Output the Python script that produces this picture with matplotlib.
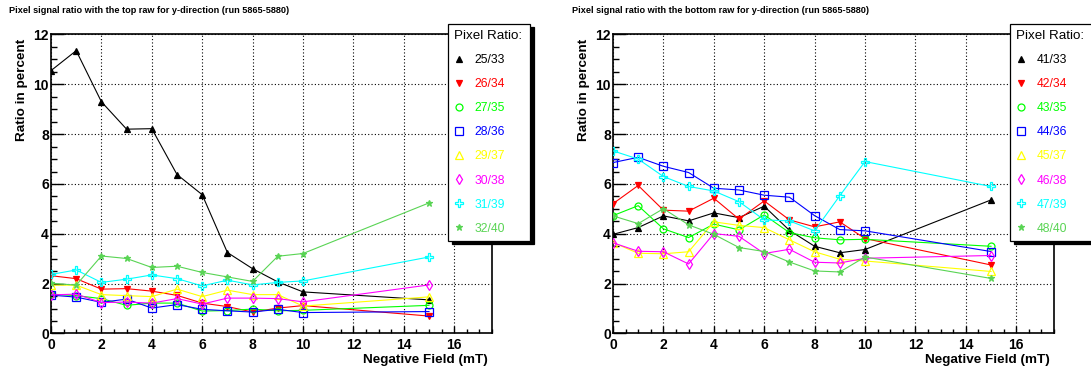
import matplotlib
matplotlib.use('Agg')
import matplotlib.pyplot as plt
from matplotlib.lines import Line2D
from matplotlib.ticker import MultipleLocator

plt.rcParams['font.family'] = ['Liberation Sans', 'DejaVu Sans']

# Field values (mT)
field = [0, 1, 2, 3, 4, 5, 6, 7, 8, 9, 10, 15]

# Top raw ratios (percent)
top_labels = ['25/33', '26/34', '27/35', '28/36', '29/37', '30/38', '31/39', '32/40']
p25_33 = [10.55, 11.35, 9.3, 8.2, 8.22, 6.38, 5.57, 3.25, 2.6, 2.07, 1.67, 1.35]
p26_34 = [2.32, 2.2, 1.78, 1.8, 1.7, 1.53, 1.22, 1.08, 0.86, 1.02, 1.12, 0.7]
p27_35 = [1.58, 1.52, 1.4, 1.13, 1.22, 1.22, 0.9, 0.92, 0.98, 0.91, 0.93, 1.13]
p28_36 = [1.54, 1.46, 1.25, 1.38, 1.02, 1.16, 0.97, 0.91, 0.86, 0.97, 0.84, 0.88]
p29_37 = [1.94, 1.94, 1.56, 1.52, 1.48, 1.78, 1.48, 1.74, 1.56, 1.56, 1.1, 1.47]
p30_38 = [1.55, 1.58, 1.24, 1.26, 1.22, 1.4, 1.18, 1.42, 1.42, 1.4, 1.27, 1.95]
p31_39 = [2.37, 2.55, 2.05, 2.18, 2.35, 2.2, 1.91, 2.14, 1.95, 2.05, 2.11, 3.07]
p32_40 = [2.02, 1.94, 3.11, 3.01, 2.65, 2.7, 2.45, 2.27, 2.09, 3.1, 3.21, 5.24]

# Bottom raw ratios (percent)
bottom_labels = ['41/33', '42/34', '43/35', '44/36', '45/37', '46/38', '47/39', '48/40']
p41_33 = [3.98, 4.25, 4.72, 4.52, 4.84, 4.65, 5.11, 4.14, 3.5, 3.24, 3.37, 5.36]
p42_34 = [5.21, 5.94, 4.95, 4.91, 5.43, 4.59, 5.32, 4.56, 4.28, 4.48, 3.81, 2.75]
p43_35 = [4.73, 5.13, 4.2, 3.85, 4.39, 4.16, 4.76, 4.05, 3.84, 3.76, 3.78, 3.5]
p44_36 = [6.86, 7.07, 6.71, 6.46, 5.83, 5.76, 5.55, 5.47, 4.73, 4.17, 4.12, 3.29]
p45_37 = [3.65, 3.22, 3.2, 3.28, 4.48, 4.34, 4.25, 3.76, 3.28, 2.98, 2.91, 2.49]
p46_38 = [3.64, 3.3, 3.28, 2.79, 4.01, 3.9, 3.21, 3.38, 2.86, 2.83, 3.02, 3.13]
p47_39 = [7.33, 7.0, 6.3, 5.9, 5.72, 5.29, 4.56, 4.52, 4.12, 5.53, 6.9, 5.9]
p48_40 = [4.72, 4.41, 5.01, 4.36, 3.98, 3.45, 3.29, 2.87, 2.51, 2.47, 3.07, 2.21]

# ROOT-like colors and markers, one per series
colors = ['black', '#ff0000', '#00ff00', '#0000ff', '#ffff00', '#ff00ff', '#00ffff', '#59d454']
markers = ['^', 'v', 'o', 's', '^', 'd', 'P', '*']
filled = [True, True, False, False, False, False, False, True]
msizes = [4.8, 4.8, 5.0, 5.8, 5.8, 5.4, 6.3, 4.8]

W, H = 1091, 374
fig = plt.figure(figsize=(W / 100, H / 100), dpi=100)


def draw_panel(left_px, series, labels, title, title_x):
    ax = fig.add_axes([left_px / W, 0.1083, 441 / W, 0.7995])
    for i, ys in enumerate(series):
        fc = colors[i] if filled[i] else 'none'
        ax.plot(field, ys, color=colors[i], lw=0.8, marker=markers[i],
                ms=msizes[i], mfc=fc, mec=colors[i], mew=0.9, zorder=3 + i * 0.01)
    ax.set_xlim(0, 17.5)
    ax.set_ylim(0, 12)
    ax.xaxis.set_major_locator(MultipleLocator(2))
    ax.xaxis.set_minor_locator(MultipleLocator(0.5))
    ax.yaxis.set_major_locator(MultipleLocator(2))
    ax.yaxis.set_minor_locator(MultipleLocator(0.5))
    ax.grid(True, which='major', color='black', ls=(0, (1, 2)), lw=0.8)
    ax.tick_params(axis='both', which='both', direction='in', top=False, right=False,
                   labelsize=10, width=1.0)
    ax.tick_params(axis='y', which='major', length=9, pad=1.5)
    ax.tick_params(axis='y', which='minor', length=4.5)
    ax.tick_params(axis='x', which='major', length=5, pad=3.5)
    ax.tick_params(axis='x', which='minor', length=2.8)
    for lab in ax.get_xticklabels() + ax.get_yticklabels():
        lab.set_fontweight('bold')
    for sp in ax.spines.values():
        sp.set_linewidth(1.2)
    ax.set_xlabel('Negative Field (mT)', fontsize=9.7, fontweight='bold', loc='right')
    ax.xaxis.set_label_coords(0.991, -0.068)
    ax.set_ylabel('Ratio in percent', fontsize=9.7, fontweight='bold', loc='top')
    ax.yaxis.set_label_coords(-0.053, 0.985)
    fig.text(title_x / W, 1 - 10.7 / H, title, fontsize=6.6, fontweight='bold',
             ha='left', va='center')

    handles = []
    for i in range(len(labels)):
        fc = colors[i] if filled[i] else 'none'
        handles.append(Line2D([], [], ls='none', marker=markers[i], ms=msizes[i],
                              mfc=fc, mec=colors[i], mew=0.9))
    leg_left = left_px + 397.3
    leg = ax.legend(handles, labels, title='Pixel Ratio:', loc='upper left',
                    bbox_to_anchor=(leg_left / W, (H - 240.7) / H, 82 / W, 216.7 / H),
                    bbox_transform=fig.transFigure, mode='expand', borderaxespad=0,
                    fontsize=8.7, title_fontsize=9.6, alignment='left',
                    handlelength=0.8, handletextpad=0.9, labelspacing=1.0,
                    borderpad=0.5, fancybox=False, framealpha=1, edgecolor='black',
                    shadow={'ox': 3, 'oy': -2.2, 'color': 'black', 'alpha': 1})
    leg.get_frame().set_linewidth(0.9)
    leg.set_zorder(10)
    for txt, c in zip(leg.get_texts(), colors):
        txt.set_color(c)
    return ax


draw_panel(51, [p25_33, p26_34, p27_35, p28_36, p29_37, p30_38, p31_39, p32_40],
           top_labels, 'Pixel signal ratio with the top raw for y-direction (run 5865-5880)', 8.7)
draw_panel(613, [p41_33, p42_34, p43_35, p44_36, p45_37, p46_38, p47_39, p48_40],
           bottom_labels, 'Pixel signal ratio with the bottom raw for y-direction (run 5865-5880)', 571.7)

fig.savefig('out.png', dpi=100, facecolor='white')
